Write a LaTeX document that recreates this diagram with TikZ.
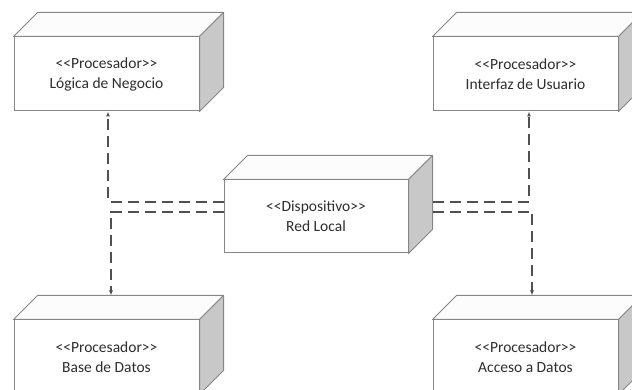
\documentclass[tikz,border=0pt]{standalone}
\usepackage{fontspec}
\setmainfont{Carlito}
\usepackage{tikz}
\usetikzlibrary{calc,arrows.meta}
\definecolor{boxline}{HTML}{868686}
\definecolor{sidegray}{HTML}{C8C8C8}
\definecolor{topgray}{HTML}{FCFCFC}
\definecolor{linkgray}{HTML}{505050}
\definecolor{textgray}{HTML}{2E2E2E}
\newcommand{\stereo}[1]{<{}<#1>{}>}

\begin{document}
\begin{tikzpicture}
  [x=1pt,y=1pt,
   unit/.style={draw=boxline, line width=1pt, fill=white, text=textgray,
     minimum width=185pt, minimum height=74pt, align=center,
     font=\fontsize{15.5}{20}\selectfont},
   face/.style={draw=boxline, line width=1pt, line join=round},
   link/.style={draw=linkgray, line width=1.2pt, dash pattern=on 11pt off 6pt,
     -{Latex[length=5pt,width=4pt]}}]
  \clip (0,0) rectangle (632,390);
  \node [unit] (logica) at (106.5,316) {\stereo{Procesador}\\ Lógica de Negocio};
  \node [unit] (interfaz) at (525.5,316) {\stereo{Procesador}\\ Interfaz de Usuario};
  \node [unit, minimum width=184pt, minimum height=73pt] (red) at (316,173.5) {\stereo{Dispositivo}\\ Red Local};
  \node [unit] (base) at (106.5,33) {\stereo{Procesador}\\ Base de Datos};
  \node [unit] (acceso) at (525.5,33) {\stereo{Procesador}\\ Acceso a Datos};

  % top and side faces of each box
  \foreach \n in {logica,interfaz,red,base,acceso}{
    \draw [face, fill=topgray] (\n.north west) -- ++(24,24)
      -- ([shift={(24,24)}]\n.north east) -- (\n.north east) -- cycle;
    \draw [face, fill=sidegray] (\n.north east) -- ++(24,24)
      -- ([shift={(24,24)}]\n.south east) -- (\n.south east) -- cycle;
  }

  \draw [link] ([yshift=14.5]red.west) -| ([xshift=1.5]logica.south);
  \draw [link] ([yshift=4.5]red.west) -| ([xshift=4.5,yshift=24]base.north);
  \draw [link] ([xshift=24,yshift=14.5]red.east) -| ([xshift=3.5]interfaz.south);
  \draw [link] ([xshift=24,yshift=4.5]red.east) -| ([xshift=6.5,yshift=24]acceso.north);
\end{tikzpicture}
\end{document}
